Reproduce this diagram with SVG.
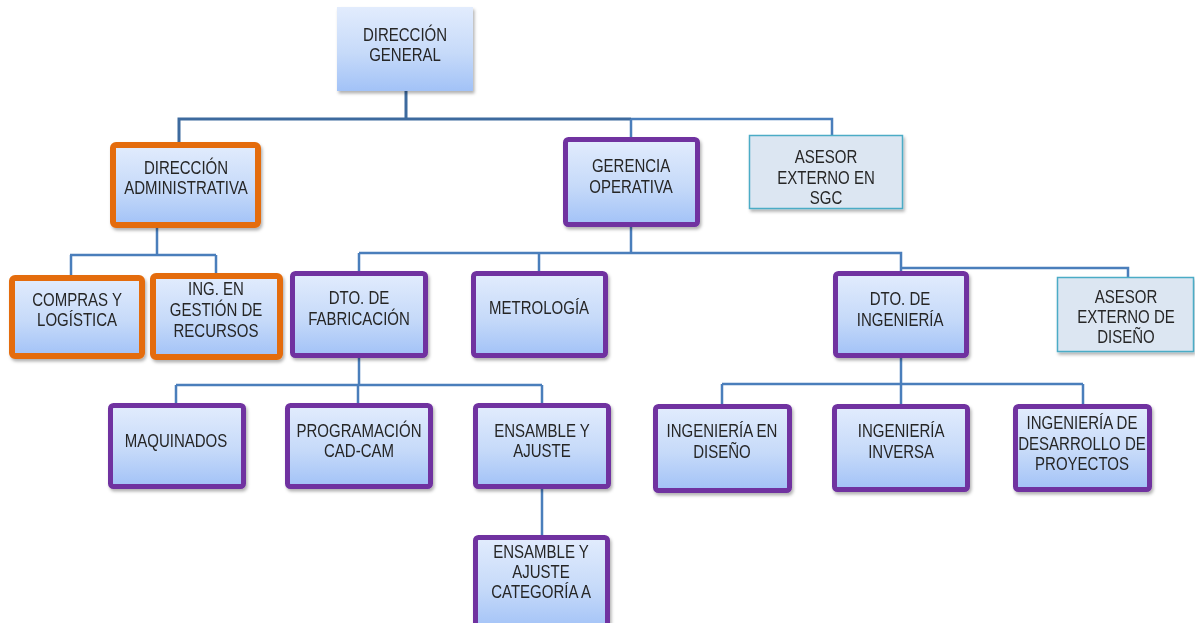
<svg xmlns="http://www.w3.org/2000/svg" width="1195" height="623" viewBox="0 0 1195 623">
<defs>
<linearGradient id="g" x1="0" y1="0" x2="0" y2="1">
<stop offset="0" stop-color="#e2ecfd"/>
<stop offset="0.55" stop-color="#c6daf9"/>
<stop offset="1" stop-color="#a2c2f7"/>
</linearGradient>
<filter id="sh" x="-10%" y="-10%" width="125%" height="130%">
<feDropShadow dx="1.5" dy="2.5" stdDeviation="1.5" flood-color="#000" flood-opacity="0.3"/>
</filter>
</defs>
<style>
text{font-family:"Liberation Sans",Arial,sans-serif;font-size:19px;fill:#262626;text-anchor:middle;transform-box:fill-box;transform-origin:center;transform:scaleX(0.79)}
.p{fill:url(#g);stroke:#7030a0;stroke-width:5}
.o{fill:url(#g);stroke:#e46c0a;stroke-width:6}
.n{fill:url(#g);stroke:none}
.a{fill:#dce6f2;stroke:#4bacc6;stroke-width:1.5}
.c{fill:none;stroke:#4a7ebb;stroke-width:2.5}
.ct{fill:none;stroke:#3d6a9e;stroke-width:3}
</style>
<rect width="1195" height="623" fill="#fff"/>
<g id="connectors">
<path class="ct" d="M406 91V119M179 142V119H631"/>
<path class="c" d="M631 119H832V135M631 119V137"/>
<path class="c" d="M157 228V255M70 255H216M71 255V275M216 255V273"/>
<path class="c" d="M631 227V253M359 253H901V271M359 253V271M539 253V271M901 268H1128V277"/>
<path class="c" d="M359 358V385M176 385H542M176 385V403M358 385V403M542 385V403M542 489V535"/>
<path class="c" d="M901 358V384M722 384H1083M722 384V404M901 384V404M1083 384V404"/>
</g>
<g id="n1" filter="url(#sh)"><rect class="n" x="337" y="7" width="136" height="84"/><text x="405" y="41">DIRECCIÓN</text><text x="405" y="61">GENERAL</text></g>
<g id="n2" filter="url(#sh)"><rect class="o" x="113" y="145" width="145" height="80" rx="3"/><text x="186" y="174">DIRECCIÓN</text><text x="186" y="194">ADMINISTRATIVA</text></g>
<g id="n3" filter="url(#sh)"><rect class="o" x="12" y="278" width="130" height="78" rx="3"/><text x="77" y="306">COMPRAS Y</text><text x="77" y="326">LOGÍSTICA</text></g>
<g id="n4" filter="url(#sh)"><rect class="o" x="153" y="276" width="127" height="81" rx="3"/><text x="216" y="295">ING. EN</text><text x="216" y="316">GESTIÓN  DE</text><text x="216" y="337">RECURSOS</text></g>
<g id="n5" filter="url(#sh)"><rect class="p" x="565.5" y="139.5" width="132" height="85" rx="3"/><text x="631" y="172">GERENCIA</text><text x="631" y="193">OPERATIVA</text></g>
<g id="n6" filter="url(#sh)"><rect class="a" x="749.5" y="135.5" width="153" height="73"/><text x="826" y="163">ASESOR</text><text x="826" y="184">EXTERNO EN</text><text x="826" y="204">SGC</text></g>
<g id="n7" filter="url(#sh)"><rect class="p" x="292.5" y="273.5" width="133" height="82" rx="3"/><text x="359" y="304">DTO. DE</text><text x="359" y="325">FABRICACIÓN</text></g>
<g id="n8" filter="url(#sh)"><rect class="p" x="473.5" y="273.5" width="132" height="82" rx="3"/><text x="539" y="314">METROLOGÍA</text></g>
<g id="n9" filter="url(#sh)"><rect class="p" x="835.5" y="273.5" width="131" height="82" rx="3"/><text x="900" y="305">DTO. DE</text><text x="900" y="326">INGENIERÍA</text></g>
<g id="n10" filter="url(#sh)"><rect class="a" x="1057.5" y="277.5" width="136" height="74"/><text x="1126" y="303">ASESOR</text><text x="1126" y="323">EXTERNO DE</text><text x="1126" y="343">DISEÑO</text></g>
<g id="n11" filter="url(#sh)"><rect class="p" x="110.5" y="405.5" width="133" height="81" rx="3"/><text x="176" y="447">MAQUINADOS</text></g>
<g id="n12" filter="url(#sh)"><rect class="p" x="287.5" y="405.5" width="143" height="81" rx="3"/><text x="359" y="437">PROGRAMACIÓN</text><text x="359" y="457">CAD-CAM</text></g>
<g id="n13" filter="url(#sh)"><rect class="p" x="475.5" y="405.5" width="133" height="81" rx="3"/><text x="542" y="437">ENSAMBLE  Y</text><text x="542" y="457">AJUSTE</text></g>
<g id="n14" filter="url(#sh)"><rect class="p" x="475.5" y="537.5" width="132" height="92" rx="3"/><text x="541" y="558">ENSAMBLE  Y</text><text x="541" y="578">AJUSTE</text><text x="541" y="598">CATEGORÍA A</text></g>
<g id="n15" filter="url(#sh)"><rect class="p" x="655.5" y="406.5" width="134" height="84" rx="3"/><text x="722" y="437">INGENIERÍA  EN</text><text x="722" y="458">DISEÑO</text></g>
<g id="n16" filter="url(#sh)"><rect class="p" x="834.5" y="406.5" width="133" height="83" rx="3"/><text x="901" y="437">INGENIERÍA</text><text x="901" y="458">INVERSA</text></g>
<g id="n17" filter="url(#sh)"><rect class="p" x="1015.5" y="406.5" width="134" height="83" rx="3"/><text x="1082" y="429">INGENIERÍA DE</text><text x="1082" y="450">DESARROLLO DE</text><text x="1082" y="470">PROYECTOS</text></g>
</svg>
